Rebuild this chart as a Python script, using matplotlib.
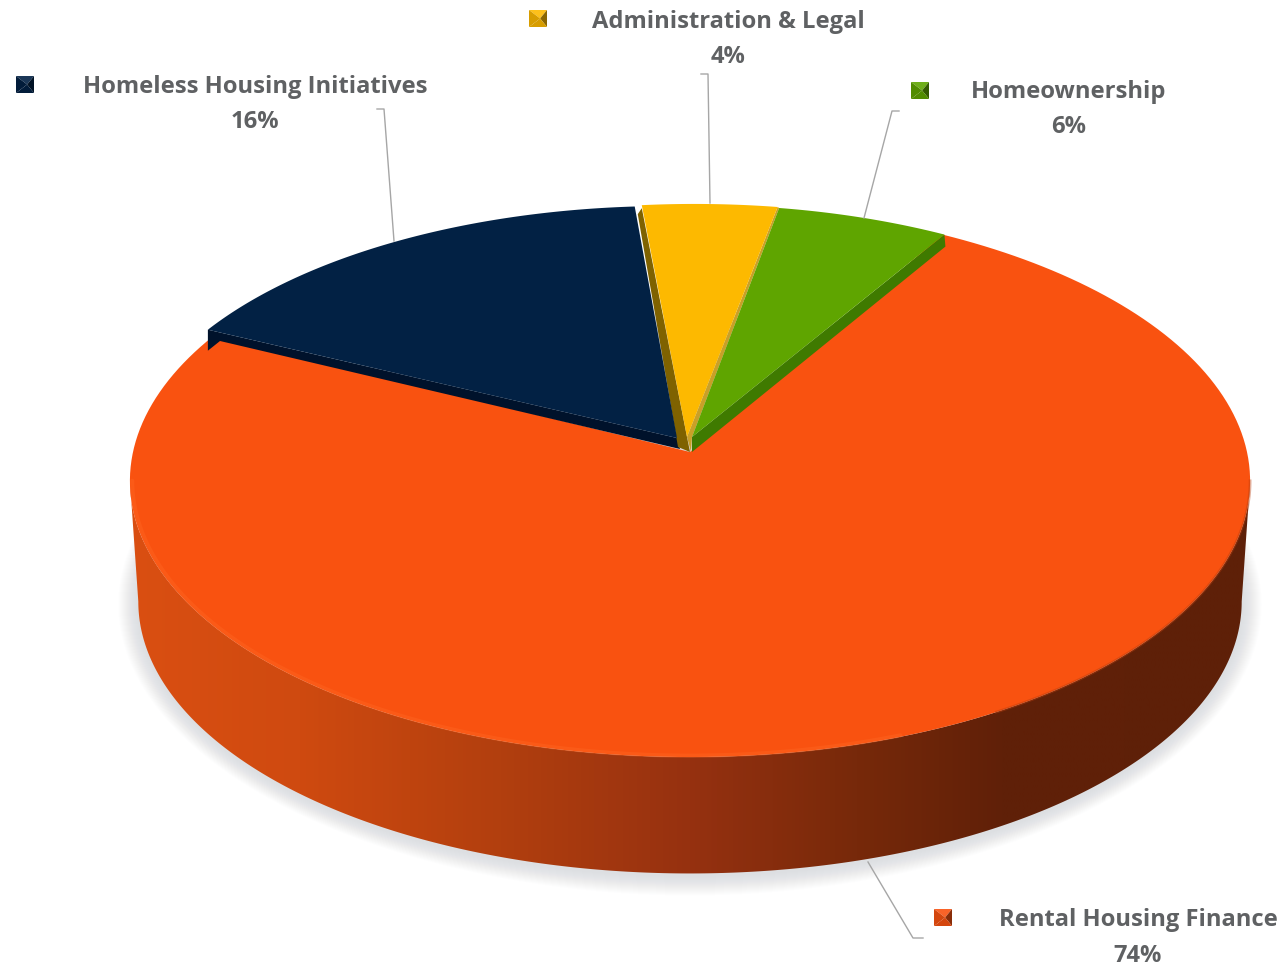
import numpy as np
import matplotlib
matplotlib.use("Agg")
import matplotlib.pyplot as plt
from matplotlib.patches import Polygon
from matplotlib.colors import LinearSegmentedColormap, to_rgb

categories = ["Administration & Legal", "Homeownership", "Rental Housing Finance", "Homeless Housing Initiatives"]
values = [4.3, 5.6, 74.1, 16.0]
face_colors = ["#fdb900", "#5fa500", "#f95210", "#022144"]
wall_colors = ["#7f6200", "#3f7a00", "#f95210", "#00122b"]

W, H = 1284, 967
fig = plt.figure(figsize=(W / 100, H / 100), dpi=100, facecolor="white")
ax = fig.add_axes([0, 0, 1, 1])
plt.rcParams["font.family"] = ["Open Sans", "DejaVu Sans"]

# Perspective model of the disc
KX, KY, C = 557.0, 273.0, 0.105
CX, CY = 690.0, 452.0
LOW_S, LOW_CY = 0.985, 573.0


def project(theta_deg, r=1.0, s=1.0, cx=CX, cy=CY):
    t = np.radians(np.asarray(theta_deg, dtype=float))
    x, y = r * np.cos(t), r * np.sin(t)
    den = 1 + C * y
    return np.column_stack([cx + s * KX * x / den, cy - s * KY * y / den])


# slice angles from the values, clockwise
START = 96.0
sweeps = np.array(values) / sum(values) * 360
ends = START - np.cumsum(sweeps)
starts = ends + sweeps
arc = {c: np.linspace(a, b, 200) for c, a, b in zip(categories, starts, ends)}
ADMIN, HOME, RENT, HOMELESS = categories

# soft shadow
for i in range(20, 0, -1):
    pts = project(np.linspace(0, 360, 240), s=LOW_S, cy=LOW_CY + 2)
    center = np.array([CX, LOW_CY])
    d = pts - center
    n = d / np.linalg.norm(d, axis=1, keepdims=True)
    ax.add_patch(Polygon(center + d + n * i * 1.0, closed=True, fc="#a4a9ae", ec="none",
                         alpha=0.016, zorder=1))

# side wall with horizontal gradient
lower = project(np.linspace(186, 354, 300), s=LOW_S, cy=LOW_CY)
upper = project(np.linspace(354, 186, 300))
wall_path = Polygon(np.vstack([lower, upper]), closed=True, fc="none", ec="none",
                    transform=ax.transData)
ax.add_patch(wall_path)
cmap = LinearSegmentedColormap.from_list("wall", [
    (0.00, "#da4f12"), (0.15, "#cf4a10"), (0.33, "#b23f0e"), (0.50, "#963110"),
    (0.65, "#77290a"), (0.78, "#602008"), (1.00, "#5e2008")])
im = ax.imshow(np.linspace(0, 1, 512)[None, :], extent=(130, 1250, 880, 450), aspect="auto",
               cmap=cmap, zorder=2, interpolation="bilinear")
im.set_clip_path(wall_path)

# rental slice
rent_rim = project(arc[RENT])
ax.add_patch(Polygon(np.vstack([[CX, CY], rent_rim]), closed=True,
                     fc=face_colors[2], ec="none", zorder=3))
front = project(np.linspace(186, 290, 200), r=0.996)
ax.plot(front[:, 0], front[:, 1], color="#ff6a26", lw=3, alpha=0.35, zorder=4,
        solid_capstyle="round")
front = project(np.linspace(300, 354, 120), r=1.0)
ax.plot(front[:, 0], front[:, 1], color="#b83c0c", lw=2, alpha=0.4, zorder=4)

# homeless slice
n_arc = len(arc[HOMELESS])
rim = project(arc[HOMELESS], r=1.012)
rim = rim + np.column_stack([np.linspace(0, -2, n_arc), np.linspace(-5, 3, n_arc)])
apex = np.array([677.0, 438.0])
corner = rim[0]
ax.add_patch(Polygon([corner, apex, [680, 449], [220, 341], corner + [0, 21]], closed=True,
                     fc=wall_colors[3], ec="none", zorder=5))
ax.add_patch(Polygon(np.vstack([apex, rim]), closed=True, fc=face_colors[3], ec="none", zorder=6))

# homeownership rim is needed for the bevel beside the administration slice
n_arc = len(arc[HOME])
home_rim = project(arc[HOME]) + np.column_stack([np.linspace(6, 2, n_arc), np.zeros(n_arc)])
g_apex = np.array([692.0, 437.0])

# administration slice
rim = project(arc[ADMIN]) + [4.5, -1]
ax.add_patch(Polygon([rim[0] + [-4, 9], rim[0] + [0, 3], [687, 437], [690, 452], [678, 447]], closed=True,
                     fc=wall_colors[0], ec="none", zorder=5))
ax.add_patch(Polygon([rim[-1], home_rim[0], g_apex, [691, 452], [687, 437]], closed=True,
                     fc="#c9a028", ec="none", zorder=5))
ax.add_patch(Polygon(np.vstack([[687, 437], rim]), closed=True, fc=face_colors[0], ec="none", zorder=6))

# homeownership slice
ax.add_patch(Polygon([home_rim[-1], g_apex, [692, 452], home_rim[-1] + [1, 12]], closed=True,
                     fc=wall_colors[1], ec="none", zorder=7))
ax.add_patch(Polygon(np.vstack([g_apex, home_rim]), closed=True, fc=face_colors[1], ec="none", zorder=8))

# leader lines
LEADER = "#a6a6a6"
leaders = [[(377, 109), (384, 109), (394, 241)],
           [(701, 74), (708, 74), (710, 203)],
           [(899, 111), (892, 111), (864, 218)],
           [(868, 862), (913, 938), (923, 938)]]
for pts in leaders:
    p = np.array(pts)
    ax.plot(p[:, 0], p[:, 1], color=LEADER, lw=1.0, zorder=9)


# labels with bevelled legend keys
def shade(col, f):
    rgb = np.array(to_rgb(col))
    return tuple(np.clip(rgb * f if f <= 1 else rgb + (1 - rgb) * (f - 1), 0, 1))


def key(x0, y0, col):
    w, h = 18, 17
    cxk, cyk = x0 + w * 0.62, y0 + h / 2
    tl, tr, br, bl = (x0, y0), (x0 + w, y0), (x0 + w, y0 + h), (x0, y0 + h)
    for tri, f in [((tl, tr), 1.1), ((tr, br), 0.55), ((br, bl), 0.85), ((bl, tl), 0.85)]:
        ax.add_patch(Polygon([tri[0], tri[1], (cxk, cyk)], closed=True, fc=shade(col, f),
                             ec="none", zorder=10))


label_pos = {ADMIN: (728, 22, 57, 529, 10), HOME: (1069, 92, 127, 911, 82),
             RENT: (1138, 920, 956, 934, 909), HOMELESS: (255, 87, 122, 16, 76)}
for cat, val, col in zip(categories, values, face_colors):
    x, y1, y2, kx, ky = label_pos[cat]
    ax.text(x, y1, cat, ha="center", va="center", fontsize=17.1, fontweight="bold", color="#5f6163", zorder=11)
    ax.text(x, y2, f"{val:.0f}%", ha="center", va="center", fontsize=17.1, fontweight="bold", color="#5f6163", zorder=11)
    key(kx, ky, col)

ax.set_xlim(0, W)
ax.set_ylim(H, 0)
ax.axis("off")
fig.savefig("out.png", dpi=100, facecolor="white")
